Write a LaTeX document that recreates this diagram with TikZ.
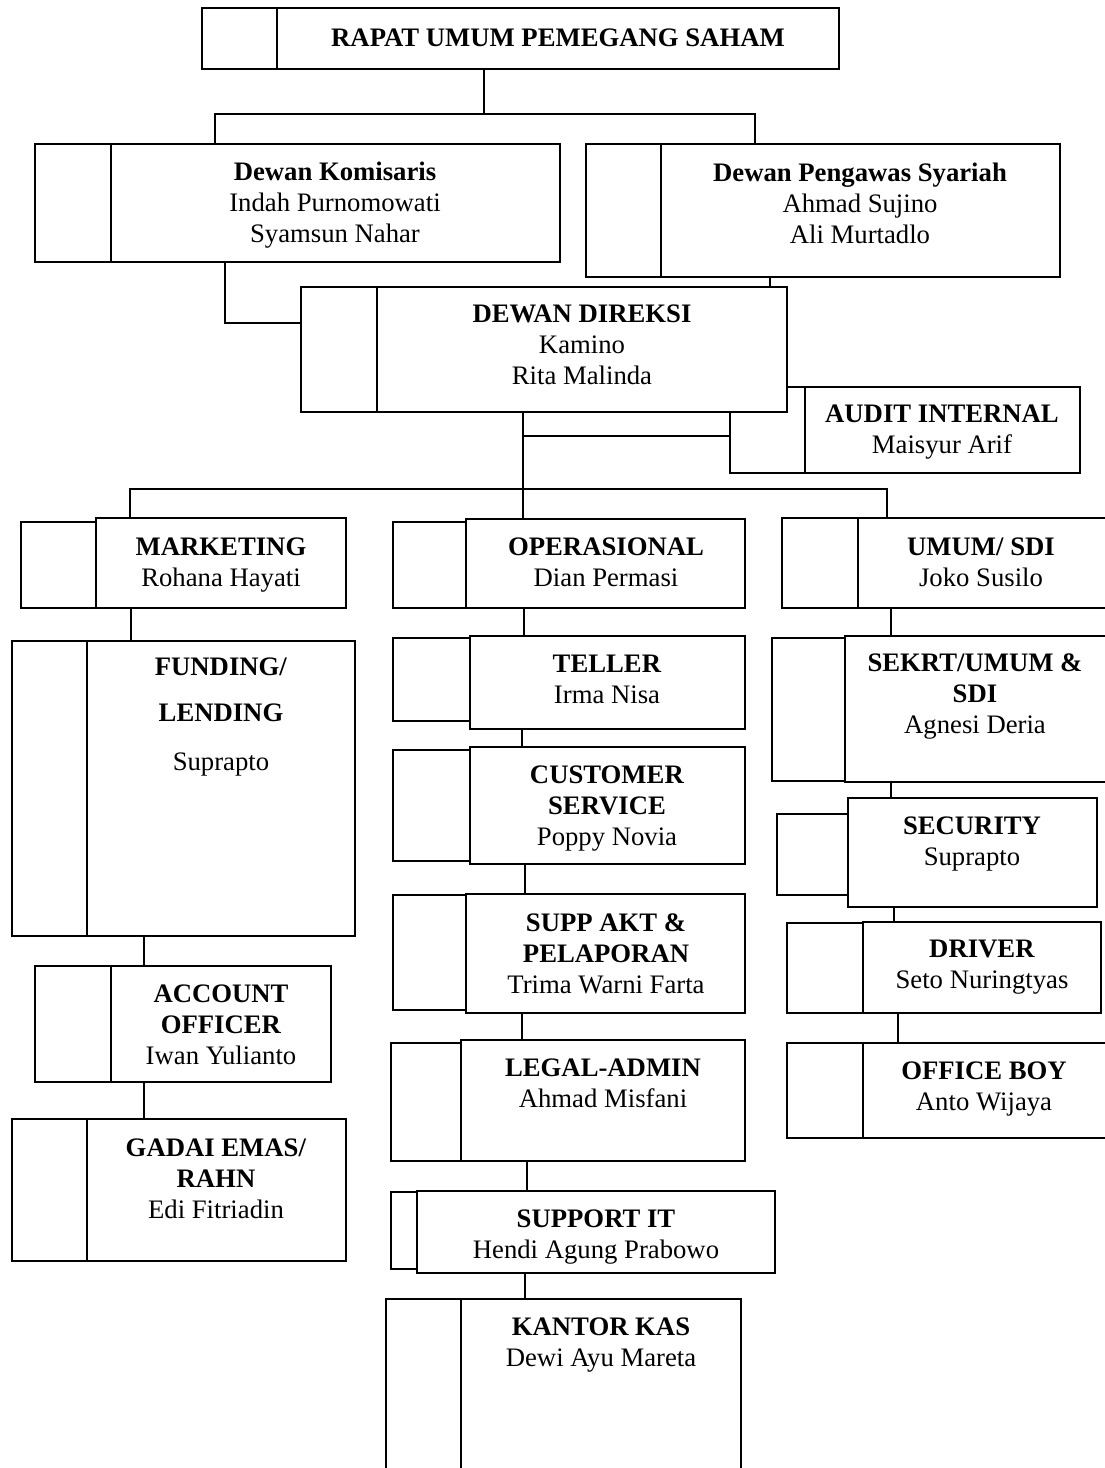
\documentclass[tikz,border=0pt]{standalone}
\usepackage{fontspec}
\setmainfont{Liberation Serif}
\usetikzlibrary{fit}
\begin{document}
\begin{tikzpicture}[x=1pt, y=-1pt,
    kotak/.style={draw, line width=1.8pt, fill=white, inner sep=0pt},
    teks/.style={align=center, inner sep=0pt, font=\fontsize{26.7pt}{31pt}\selectfont},
    garis/.style={line width=1.2pt}]
\useasboundingbox (0,0) rectangle (1104,1468);

% RUPS
\node[kotak, fit={(202,8) (277,69)}] (rups-p) {};
\node[kotak, fit={(277,8) (839,69)}] (rups) {};
\node[teks] (rups-t) at (558,38) {\textbf{RAPAT UMUM PEMEGANG SAHAM}};

% Dewan Komisaris & Dewan Pengawas Syariah
\node[kotak, fit={(35,144) (111,262)}] (kom-p) {};
\node[kotak, fit={(111,144) (560,262)}] (kom) {};
\node[teks] (kom-t) at (335,205) {\textbf{Dewan Komisaris}\\Indah Purnomowati\\Syamsun Nahar};
\node[kotak, fit={(586,144) (661,277)}] (syr-p) {};
\node[kotak, fit={(661,144) (1060,277)}] (syr) {};
\node[teks] (syr-t) at (860,203) {\textbf{Dewan Pengawas Syariah}\\Ahmad Sujino\\Ali Murtadlo};

% Audit Internal (di belakang Dewan Direksi)
\node[kotak, fit={(730,387) (805,473)}] (aud-p) {};
\node[kotak, fit={(805,387) (1080,473)}] (aud) {};
\node[teks] (aud-t) at (942,432) {\textbf{AUDIT INTERNAL}\\Maisyur Arif};

% Dewan Direksi
\node[kotak, fit={(301,287) (377,412)}] (dir-p) {};
\node[kotak, fit={(377,287) (787,412)}] (dir) {};
\node[teks] (dir-t) at (582,345) {\textbf{DEWAN DIREKSI}\\Kamino\\Rita Malinda};

% Kolom kiri: marketing
\node[kotak, fit={(21,522) (96,608)}] (mkt-p) {};
\node[kotak, fit={(96,518) (346,608)}] (mkt) {};
\node[teks] (mkt-t) at (221,565) {\textbf{MARKETING}\\Rohana Hayati};
\node[kotak, fit={(12,641) (87,936)}] (fund-p) {};
\node[kotak, fit={(87,641) (355,936)}] (fund) {};
\node[teks] (fund-t) at (221,717) {\textbf{FUNDING/}\\[15pt]\textbf{LENDING}\\[18pt]Suprapto};
\node[kotak, fit={(35,966) (111,1082)}] (acc-p) {};
\node[kotak, fit={(111,966) (331,1082)}] (acc) {};
\node[teks] (acc-t) at (221,1025) {\textbf{ACCOUNT}\\\textbf{OFFICER}\\Iwan Yulianto};
\node[kotak, fit={(12,1119) (87,1261)}] (gadai-p) {};
\node[kotak, fit={(87,1119) (346,1261)}] (gadai) {};
\node[teks] (gadai-t) at (216,1179) {\textbf{GADAI EMAS/}\\\textbf{RAHN}\\Edi Fitriadin};

% Kolom tengah: operasional
\node[kotak, fit={(393,522) (466,608)}] (ops-p) {};
\node[kotak, fit={(466,519) (745,608)}] (ops) {};
\node[teks] (ops-t) at (606,562) {\textbf{OPERASIONAL}\\Dian Permasi};
\node[kotak, fit={(393,638) (470,721)}] (tel-p) {};
\node[kotak, fit={(470,636) (745,729)}] (tel) {};
\node[teks] (tel-t) at (607,679) {\textbf{TELLER}\\Irma Nisa};
\node[kotak, fit={(393,750) (470,861)}] (cs-p) {};
\node[kotak, fit={(470,747) (745,864)}] (cs) {};
\node[teks] (cs-t) at (607,809) {\textbf{CUSTOMER}\\\textbf{SERVICE}\\Poppy Novia};
\node[kotak, fit={(393,895) (466,1010)}] (akt-p) {};
\node[kotak, fit={(466,894) (745,1013)}] (akt) {};
\node[teks] (akt-t) at (606,954) {\textbf{SUPP AKT \&}\\\textbf{PELAPORAN}\\Trima Warni Farta};
\node[kotak, fit={(391,1043) (461,1161)}] (legal-p) {};
\node[kotak, fit={(461,1040) (745,1161)}] (legal) {};
\node[teks] (legal-t) at (603,1083) {\textbf{LEGAL-ADMIN}\\Ahmad Misfani};
\node[kotak, fit={(391,1192) (417,1269)}] (it-p) {};
\node[kotak, fit={(417,1191) (775,1273)}] (it) {};
\node[teks] (it-t) at (596,1237) {\textbf{SUPPORT IT}\\Hendi Agung Prabowo};
\node[kotak, fit={(386,1299) (461,1480)}] (kas-p) {};
\node[kotak, fit={(461,1299) (741,1480)}] (kas) {};
\node[teks] (kas-t) at (601,1345) {\textbf{KANTOR KAS}\\Dewi Ayu Mareta};

% Kolom kanan: umum/SDI
\node[kotak, fit={(782,518) (858,608)}] (umum-p) {};
\node[kotak, fit={(858,518) (1106,608)}] (umum) {};
\node[teks] (umum-t) at (981,562) {\textbf{UMUM/ SDI}\\Joko Susilo};
\node[kotak, fit={(772,638) (845,781)}] (skr-p) {};
\node[kotak, fit={(845,636) (1106,782)}] (skr) {};
\node[teks] (skr-t) at (975,696) {\textbf{SEKRT/UMUM \&}\\\textbf{SDI}\\Agnesi Deria};
\node[kotak, fit={(777,814) (848,895)}] (sec-p) {};
\node[kotak, fit={(848,798) (1097,907)}] (sec) {};
\node[teks] (sec-t) at (972,844) {\textbf{SECURITY}\\Suprapto};
\node[kotak, fit={(787,923) (863,1013)}] (drv-p) {};
\node[kotak, fit={(863,922) (1101,1013)}] (drv) {};
\node[teks] (drv-t) at (982,967) {\textbf{DRIVER}\\Seto Nuringtyas};
\node[kotak, fit={(787,1043) (863,1138)}] (ob-p) {};
\node[kotak, fit={(863,1043) (1106,1138)}] (ob) {};
\node[teks] (ob-t) at (984,1089) {\textbf{OFFICE BOY}\\Anto Wijaya};

% Garis penghubung atas
\coordinate (j-rups) at (484,114);
\draw[garis] (j-rups |- rups.south) -- (j-rups);
\draw[garis] (215,0 |- kom.north) |- (j-rups) -| (755,0 |- syr.north);
\draw[garis] (225,0 |- kom.south) |- (dir-p.west |- 0,323);
\draw[garis] (770,0 |- syr.south) -- (770,0 |- dir.north);

% Direksi ke bagian
\coordinate (j-dir) at (523,489);
\draw[garis] (j-dir |- dir.south) -- (j-dir |- ops.north);
\draw[garis] (j-dir |- 0,436) -- (aud-p.west |- 0,436);
\draw[garis] (130,0 |- mkt.north) |- (j-dir) -| (887,0 |- umum.north);

% Garis tiap kolom
\draw[garis] (131,0 |- mkt.south) -- (131,0 |- fund.north);
\draw[garis] (144,0 |- fund.south) -- (144,0 |- acc.north);
\draw[garis] (144,0 |- acc.south) -- (144,0 |- gadai.north);
\draw[garis] (524,0 |- ops.south) -- (524,0 |- tel.north);
\draw[garis] (522,0 |- tel.south) -- (522,0 |- cs.north);
\draw[garis] (525,0 |- cs.south) -- (525,0 |- akt.north);
\draw[garis] (522,0 |- akt.south) -- (522,0 |- legal.north);
\draw[garis] (527,0 |- legal.south) -- (527,0 |- it.north);
\draw[garis] (525,0 |- it.south) -- (525,0 |- kas.north);
\draw[garis] (891,0 |- umum.south) -- (891,0 |- skr.north);
\draw[garis] (891,0 |- skr.south) -- (891,0 |- sec.north);
\draw[garis] (894,0 |- sec.south) -- (894,0 |- drv.north);
\draw[garis] (898,0 |- drv.south) -- (898,0 |- ob.north);
\end{tikzpicture}
\end{document}
